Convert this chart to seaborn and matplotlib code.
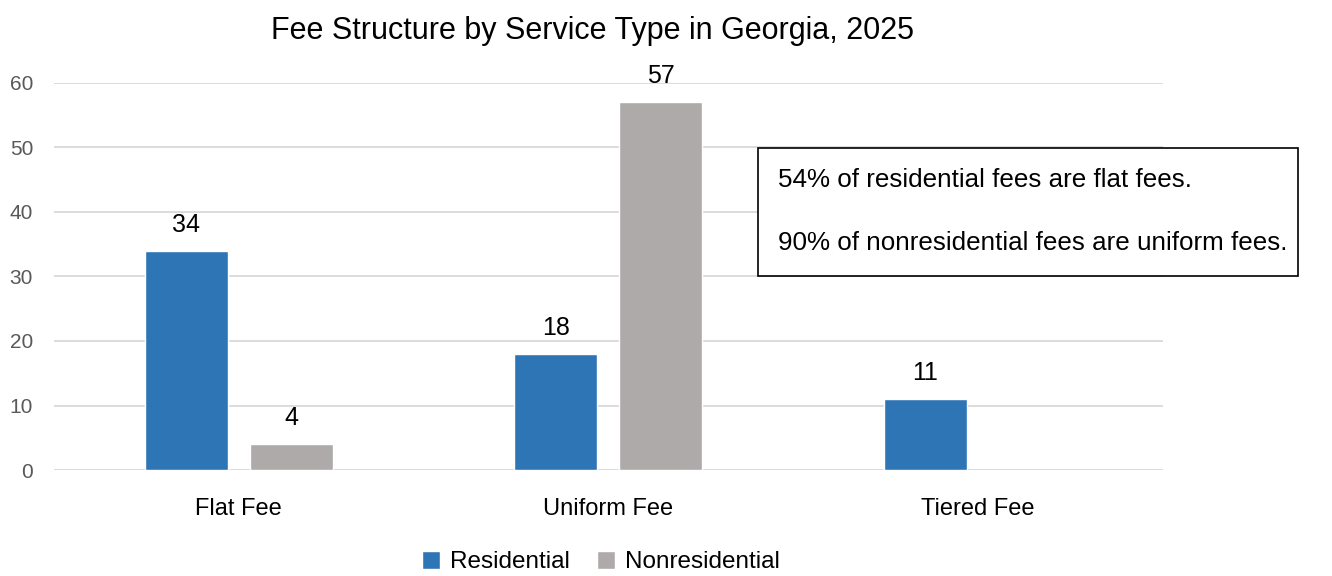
import matplotlib
matplotlib.use("Agg")
import matplotlib.pyplot as plt
from matplotlib.patches import Rectangle
import seaborn as sns
import pandas as pd
import numpy as np

categories = ["Flat Fee", "Uniform Fee", "Tiered Fee"]
residential = [34, 18, 11]
nonresidential = [4, 57, None]
series_names = ["Residential", "Nonresidential"]
colors = ["#2E75B6", "#AEAAAA"]
title = "Fee Structure by Service Type in Georgia, 2025"
notes = ["54% of residential fees are flat fees.",
         "90% of nonresidential fees are uniform fees."]

rows = []
for cat, r, n in zip(categories, residential, nonresidential):
    rows.append({"Type": cat, "Series": series_names[0], "Count": r})
    if n is not None:
        rows.append({"Type": cat, "Series": series_names[1], "Count": n})
df = pd.DataFrame(rows)

sns.set_style("white")
plt.rcParams["font.family"] = ["Liberation Sans", "DejaVu Sans"]
plt.rcParams["text.color"] = "#000000"

fig = plt.figure(figsize=(13.32, 5.76), dpi=100)
ax = fig.add_axes([0.0405, 0.184, 0.8325, 0.672])

sns.barplot(data=df, x="Type", y="Count", hue="Series", order=categories,
            hue_order=series_names, palette=colors, width=0.568, gap=0.21,
            saturation=1, errorbar=None, ax=ax, legend=True)

ax.set_ylim(0, 60)
ax.set_xlim(-0.5, 2.5)
ax.set_yticks(range(0, 61, 10))
ax.yaxis.grid(True, color="#D9D9D9", linewidth=1.3)
ax.set_axisbelow(True)
for s in ax.spines.values():
    s.set_visible(False)
ax.tick_params(axis="y", length=0, labelsize=15, labelcolor="#595959", pad=15)
ax.tick_params(axis="x", length=0, labelsize=17, labelcolor="#000000", pad=20)
ax.set_xlabel("")
ax.set_ylabel("")

for container in ax.containers:
    for bar in container:
        h = bar.get_height()
        if h is None or np.isnan(h) or h == 0:
            continue
        ax.annotate(f"{h:g}", (bar.get_x() + bar.get_width() / 2, h),
                    xytext=(0, 10), textcoords="offset points",
                    ha="center", va="bottom", fontsize=18, color="#000000")

handles, labels = ax.get_legend_handles_labels()
ax.legend_.remove()
fig.legend(handles, labels, loc="center", bbox_to_anchor=(0.451, 0.024),
           ncol=2, frameon=False, fontsize=17.5, handlelength=0.75,
           handleheight=0.75, handletextpad=0.4, columnspacing=1.1,
           labelcolor="#000000")

fig.text(0.445, 0.947, title, ha="center", va="center", fontsize=22)

# annotation box with the two summary statements
fig.patches.append(Rectangle((758 / 1332, 1 - 276 / 576), 540 / 1332, 128 / 576,
                             transform=fig.transFigure, fill=True,
                             facecolor="white", edgecolor="#000000",
                             linewidth=1.2, zorder=5))
fig.text(778 / 1332, 1 - 180 / 576, notes[0], ha="left", va="center",
         fontsize=18.7, zorder=6)
fig.text(778 / 1332, 1 - 243 / 576, notes[1], ha="left", va="center",
         fontsize=18.7, zorder=6)

fig.savefig("out.png", dpi=100, facecolor="white")
